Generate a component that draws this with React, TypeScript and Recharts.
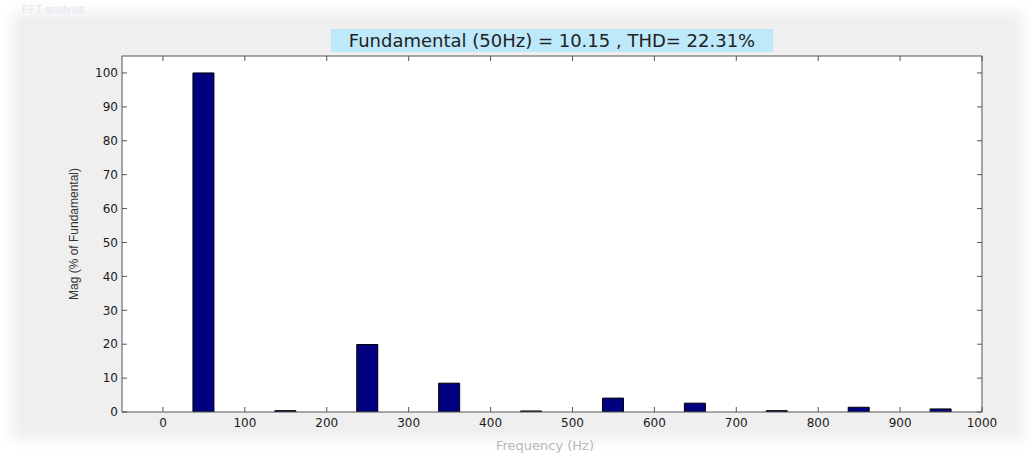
import React from 'react';
import { ComposedChart, Bar, Line, XAxis, YAxis, CartesianGrid, Label } from 'recharts';

// harmonic spectrum, odd harmonics of 50 Hz
const frequencies = [50, 150, 250, 350, 450, 550, 650, 750, 850, 950];
const magnitudes = [100, 0.4, 19.9, 8.5, 0.3, 4.1, 2.6, 0.4, 1.4, 0.9];
const xTicks = [0, 100, 200, 300, 400, 500, 600, 700, 800, 900, 1000];
const yTicks = [0, 10, 20, 30, 40, 50, 60, 70, 80, 90, 100];

const titleText = 'Fundamental (50Hz) = 10.15 , THD= 22.31%';

const data = frequencies.map((f, i) => ({ freq: f, mag: magnitudes[i] }));

const tickFont = { fontFamily: '"DejaVu Sans", sans-serif', fontSize: 12, fill: '#1a1a1a' };
const noTick = () => <g />;

export default function App() {
  return (
    <div style={{ position: 'absolute', left: 0, top: 0, width: 1032, height: 454, overflow: 'hidden', background: '#fff' }}>
      <div
        style={{
          position: 'absolute',
          left: 20,
          top: 20,
          width: 995,
          height: 412,
          background: '#efefef',
          boxShadow: '0 0 14px 8px #efefef',
        }}
      />
      <div
        style={{
          position: 'absolute',
          left: 22,
          top: 3,
          fontFamily: 'Arial, "Liberation Sans", sans-serif',
          fontSize: 11,
          color: '#e4e4ee',
        }}
      >
        FFT analysis
      </div>
      <div
        style={{
          position: 'absolute',
          left: 331,
          top: 29,
          width: 442,
          height: 23,
          lineHeight: '23px',
          background: '#bde9fb',
          textAlign: 'center',
          fontFamily: '"DejaVu Sans", sans-serif',
          fontSize: 18,
          color: '#222',
          whiteSpace: 'nowrap',
        }}
      >
        {titleText}
      </div>
      <div style={{ position: 'absolute', left: 0, top: 0 }}>
        <ComposedChart width={1032} height={454} data={data} margin={{ top: 55, right: 49, bottom: 0, left: 62 }}>
          <CartesianGrid horizontal={false} vertical={false} fill="#ffffff" />
          <XAxis
            dataKey="freq"
            type="number"
            domain={[-50, 1000]}
            ticks={xTicks}
            allowDataOverflow
            height={42}
            tickSize={-5}
            tickMargin={11}
            tick={tickFont}
            stroke="#555"
          >
            <Label
              value="Frequency  (Hz)"
              position="insideBottom"
              offset={4}
              dx={-7}
              style={{ fontFamily: '"DejaVu Sans", sans-serif', fontSize: 13, fill: '#b8b8b8' }}
            />
          </XAxis>
          <XAxis
            xAxisId="top"
            dataKey="freq"
            orientation="top"
            type="number"
            domain={[-50, 1000]}
            ticks={xTicks}
            allowDataOverflow
            height={1}
            tickSize={-5}
            tick={noTick}
            stroke="#555"
          />
          <YAxis
            domain={[0, 105]}
            ticks={yTicks}
            allowDataOverflow
            width={60}
            tickSize={-5}
            tickMargin={9}
            tick={tickFont}
            stroke="#555"
          >
            <Label
              value="Mag (% of Fundamental)"
              angle={-90}
              position="center"
              dx={-18}
              style={{ fontFamily: 'Arial, "Liberation Sans", sans-serif', fontSize: 12, fill: '#333', textAnchor: 'middle' }}
            />
          </YAxis>
          <YAxis
            yAxisId="right"
            orientation="right"
            domain={[0, 105]}
            ticks={yTicks}
            allowDataOverflow
            width={1}
            tickSize={-5}
            tick={noTick}
            stroke="#555"
          />
          <Bar dataKey="mag" fill="#000080" stroke="#000" strokeWidth={1} barSize={21} isAnimationActive={false} />
          {/* invisible series so the top/right box axes get drawn */}
          <Line
            xAxisId="top"
            yAxisId="right"
            dataKey="mag"
            stroke="none"
            dot={false}
            activeDot={false}
            legendType="none"
            isAnimationActive={false}
          />
        </ComposedChart>
      </div>
    </div>
  );
}
